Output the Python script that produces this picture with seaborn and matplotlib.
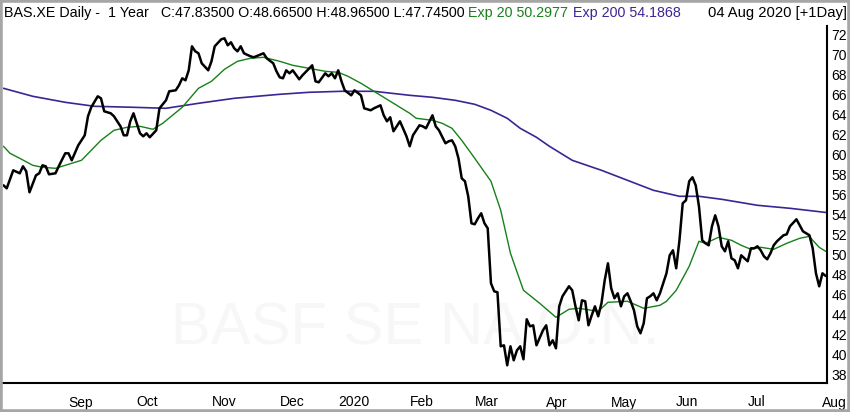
import pandas as pd
import matplotlib
matplotlib.use('Agg')
import matplotlib.pyplot as plt
import seaborn as sns
from matplotlib.patches import Rectangle

# Xetra trading calendar for the year shown (weekdays minus exchange holidays)
start_date = '2019-08-05'
end_date = '2020-08-04'
holidays = ['2019-12-24', '2019-12-25', '2019-12-26', '2019-12-31',
            '2020-01-01', '2020-04-10', '2020-04-13', '2020-05-01']

# Daily close (trading-day index -> price)
price_day = [0, 1, 3, 5, 6, 7, 8, 10, 11, 12, 13, 14, 16, 17, 19, 20, 21, 23, 25, 26,
             27, 29, 30, 31, 33, 34, 36, 37, 38, 39, 40, 41, 42, 43, 44, 45, 47, 48, 50, 51,
             53, 54, 55, 56, 57, 58, 59, 60, 61, 63, 64, 65, 67, 68, 69, 70, 71, 72, 73, 74,
             76, 77, 80, 81, 83, 84, 85, 86, 87, 88, 89, 91, 92, 95, 96, 97, 99, 100, 101, 102,
             103, 104, 105, 107, 108, 110, 111, 113, 114, 116, 117, 118, 119, 120, 122, 124, 125, 126, 128, 129,
             130, 132, 133, 134, 136, 137, 138, 139, 140, 141, 142, 143, 144, 145, 146, 147, 148, 149, 150, 151,
             152, 153, 154, 155, 156, 157, 158, 159, 160, 161, 162, 163, 164, 166, 167, 168, 169, 170, 171, 172,
             173, 174, 175, 176, 177, 178, 179, 180, 181, 182, 183, 184, 185, 186, 187, 188, 189, 190, 191, 192,
             193, 194, 195, 196, 197, 198, 199, 200, 201, 202, 203, 204, 205, 206, 207, 208, 209, 210, 211, 212,
             213, 214, 215, 216, 217, 218, 219, 220, 221, 222, 223, 224, 225, 226, 227, 228, 229, 230, 231, 232,
             233, 234, 235, 236, 237, 238, 240, 241, 242, 244, 245, 246, 248, 249, 250, 251, 252, 253]
price_close = [56.9, 56.6, 58.4, 58.1, 58.8, 58.3, 56.2, 57.9, 58.1, 58.9, 58.8, 58.0, 58.1, 58.8, 60.1, 60.1, 59.4, 60.9, 61.9, 63.8,
               64.7, 65.8, 65.6, 64.3, 64.1, 63.8, 62.8, 61.9, 61.9, 63.3, 64.1, 63.1, 62.1, 61.8, 62.1, 61.7, 62.4, 64.6, 65.4, 66.3,
               66.4, 66.9, 67.6, 67.4, 68.4, 70.8, 70.3, 70.1, 69.1, 68.4, 69.3, 70.8, 71.5, 71.6, 70.9, 71.2, 70.6, 70.3, 70.8, 70.1,
               69.8, 69.7, 70.1, 69.6, 69.1, 68.3, 67.7, 67.6, 68.4, 68.1, 68.4, 67.5, 67.9, 68.9, 67.3, 67.2, 68.1, 67.8, 68.1, 67.6,
               68.4, 67.3, 66.4, 65.9, 66.4, 65.9, 64.6, 64.4, 64.6, 64.9, 63.9, 63.3, 63.7, 62.3, 63.3, 61.8, 60.8, 61.9, 62.9, 62.8,
               62.6, 63.9, 62.8, 62.4, 61.1, 61.3, 61.4, 60.8, 59.6, 57.6, 57.3, 55.8, 53.1, 53.0, 53.6, 54.1, 53.1, 52.6, 47.1, 46.3,
               46.2, 40.8, 40.9, 38.9, 40.8, 39.4, 40.4, 40.8, 39.5, 43.5, 42.8, 42.9, 40.9, 42.4, 42.9, 40.9, 41.4, 40.6, 44.8, 45.8,
               46.3, 46.8, 46.4, 44.8, 43.4, 45.4, 45.3, 42.9, 43.9, 44.8, 43.8, 45.1, 47.4, 49.1, 46.6, 45.6, 46.1, 44.8, 45.8, 46.1,
               45.3, 44.4, 42.8, 42.1, 43.1, 45.6, 45.8, 46.1, 45.4, 46.1, 47.1, 48.1, 49.9, 50.4, 48.6, 51.4, 55.1, 55.4, 57.3, 57.7,
               56.9, 54.8, 51.4, 51.1, 50.9, 52.8, 53.9, 52.8, 50.8, 50.3, 51.3, 49.6, 49.4, 48.6, 49.9, 49.6, 49.3, 50.6, 50.6, 50.8,
               50.4, 49.8, 49.5, 50.1, 50.9, 51.3, 51.9, 52.0, 52.8, 53.5, 52.9, 52.3, 51.9, 50.6, 48.1, 46.8, 48.1, 47.835]

# 20-day exponential average
ema20_day = [0, 2, 5, 9, 12, 16, 20, 24, 27, 30, 34, 38, 42, 46, 49, 52, 55, 60, 64, 68,
             72, 76, 80, 85, 89, 94, 99, 103, 106, 110, 114, 119, 125, 127, 132, 135, 138, 141, 145, 150,
             153, 156, 160, 165, 170, 174, 177, 183, 186, 192, 197, 202, 204, 207, 211, 214, 216, 220, 224, 227,
             230, 233, 237, 241, 245, 248, 249, 251, 253]
ema20 = [60.8, 60.1, 59.6, 58.9, 58.7, 58.6, 59.0, 59.4, 60.4, 61.4, 62.4, 62.7, 62.8, 62.5, 63.1, 63.9, 64.7, 66.6, 67.3, 68.5,
         69.3, 69.6, 69.7, 69.3, 68.9, 68.6, 68.3, 68.2, 67.8, 67.1, 66.3, 65.3, 64.1, 63.6, 63.4, 63.1, 62.6, 61.4, 59.6, 57.3,
         54.4, 50.1, 46.4, 45.1, 43.7, 44.5, 44.6, 44.3, 45.2, 45.3, 44.6, 44.9, 45.3, 46.4, 48.8, 51.3, 51.1, 51.7, 51.4, 50.9,
         50.5, 50.7, 50.5, 51.1, 51.6, 51.8, 51.4, 50.7, 50.2977]

# 200-day exponential average
ema200_day = [0, 9, 19, 28, 40, 50, 60, 71, 85, 94, 104, 114, 125, 132, 139, 145, 150, 155, 159, 164,
              168, 175, 184, 192, 200, 208, 214, 221, 232, 242, 253]
ema200 = [66.6, 65.8, 65.2, 64.8, 64.7, 64.6, 65.1, 65.6, 66.0, 66.2, 66.3, 66.3, 65.9, 65.7, 65.4, 65.0, 64.4, 63.6, 62.6, 61.7,
          60.8, 59.4, 58.4, 57.4, 56.4, 55.8, 55.8, 55.5, 54.9, 54.6, 54.1868]

y_ticks = list(range(38, 73, 2))

title_main = 'BAS.XE Daily -  1 Year   C:47.83500 O:48.66500 H:48.96500 L:47.74500'
title_exp20 = 'Exp 20 50.2977'
title_exp200 = 'Exp 200 54.1868'
title_date = '04 Aug 2020 [+1Day]'
watermark = 'BASF SE NA O.N.'

green = '#17801a'
purple = '#3d2494'

sns.set_style('white')
plt.rcParams['font.family'] = ['Liberation Sans', 'DejaVu Sans']

dates = pd.bdate_range(start_date, end_date)
dates = dates[~dates.isin(pd.to_datetime(holidays))]

# month ticks at the first trading day of each month
tick_pos = []
tick_lab = []
for i in range(1, len(dates)):
    if dates[i].month != dates[i - 1].month:
        tick_pos.append(i)
        tick_lab.append(str(dates[i].year) if dates[i].month == 1 else dates[i].strftime('%b'))

df_price = pd.DataFrame({'day': price_day, 'close': price_close})
df_ema20 = pd.DataFrame({'day': ema20_day, 'value': ema20})
df_ema200 = pd.DataFrame({'day': ema200_day, 'value': ema200})

fig = plt.figure(figsize=(8.5, 4.12), dpi=100)
ax = fig.add_axes([3 / 850, 29 / 412, 824 / 850, 357 / 412])

ax.text(0.5, 0.15, watermark, transform=ax.transAxes, ha='center', va='center',
        fontsize=43, color='#f7f7f7', zorder=0)

sns.lineplot(data=df_ema200, x='day', y='value', ax=ax, color=purple, linewidth=1.2)
sns.lineplot(data=df_ema20, x='day', y='value', ax=ax, color=green, linewidth=1.0)
sns.lineplot(data=df_price, x='day', y='close', ax=ax, color='black', linewidth=1.8)

ax.set_xlim(-0.15, 253.4)
ax.set_ylim(37.13, 72.83)
ax.set_xlabel('')
ax.set_ylabel('')

for side in ['left', 'top']:
    ax.spines[side].set_visible(False)
for side in ['right', 'bottom']:
    ax.spines[side].set_linewidth(1.5)
    ax.spines[side].set_color('black')

ax.yaxis.tick_right()
ax.set_yticks(y_ticks)
ax.set_yticklabels([str(v) for v in y_ticks])
ax.tick_params(axis='y', length=0, pad=3, labelsize=10, colors='black')

ax.set_xticks(tick_pos)
ax.set_xticklabels(tick_lab, ha='left')
ax.tick_params(axis='x', length=6, width=1.5, pad=3, labelsize=10, direction='out', colors='black')

# title row
ty = 1 - 12.5 / 412
fig.text(4 / 850, ty, title_main, ha='left', va='center', fontsize=10.3, color='black')
fig.text(468 / 850, ty, title_exp20, ha='left', va='center', fontsize=10.3, color=green)
fig.text(573 / 850, ty, title_exp200, ha='left', va='center', fontsize=10.3, color=purple)
fig.text(847 / 850, ty, title_date, ha='right', va='center', fontsize=10.6, color='black')

fig.add_artist(Rectangle((0, 0), 1, 1, transform=fig.transFigure, fill=False,
                         edgecolor='#a6a6a6', linewidth=4))

fig.savefig('out.png', dpi=100)
